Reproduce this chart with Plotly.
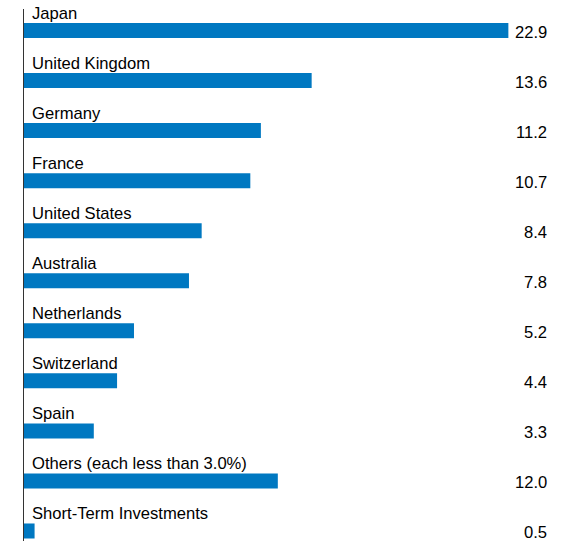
import plotly.graph_objects as go

categories = ["Japan", "United Kingdom", "Germany", "France", "United States",
              "Australia", "Netherlands", "Switzerland", "Spain",
              "Others (each less than 3.0%)", "Short-Term Investments"]
values = [22.9, 13.6, 11.2, 10.7, 8.4, 7.8, 5.2, 4.4, 3.3, 12.0, 0.5]
value_labels = ["22.9", "13.6", "11.2", "10.7", "8.4", "7.8", "5.2", "4.4", "3.3", "12.0", "0.5"]

bar_color = "#0078C1"
font_family = "Liberation Sans, Arial, sans-serif"

fig = go.Figure()
fig.add_trace(go.Bar(
    x=values,
    y=list(range(len(categories))),
    orientation="h",
    marker=dict(color=bar_color, line=dict(width=0)),
    width=0.3,
    hoverinfo="skip",
))

annotations = []
for i, (cat, lab) in enumerate(zip(categories, value_labels)):
    annotations.append(dict(
        x=0, y=i, xref="x", yref="y", text=cat, showarrow=False,
        xanchor="left", yanchor="middle", xshift=6, yshift=17.5,
        font=dict(family=font_family, size=16.6, color="#000000"),
    ))
    annotations.append(dict(
        x=1, y=i, xref="paper", yref="y", text=lab, showarrow=False,
        xanchor="right", yanchor="middle", xshift=40, yshift=-2,
        font=dict(family=font_family, size=16.6, color="#000000"),
    ))

fig.update_layout(
    width=573, height=548,
    margin=dict(l=24, r=64, t=9, b=7),
    plot_bgcolor="white", paper_bgcolor="white",
    showlegend=False,
    annotations=annotations,
    xaxis=dict(range=[0, 22.93], visible=False, showgrid=False, zeroline=False),
    yaxis=dict(range=[10.2, -0.43], showticklabels=False, showgrid=False,
               zeroline=False, showline=True, linecolor="#333333", linewidth=1,
               ticks=""),
)

fig.write_html("out.html")
